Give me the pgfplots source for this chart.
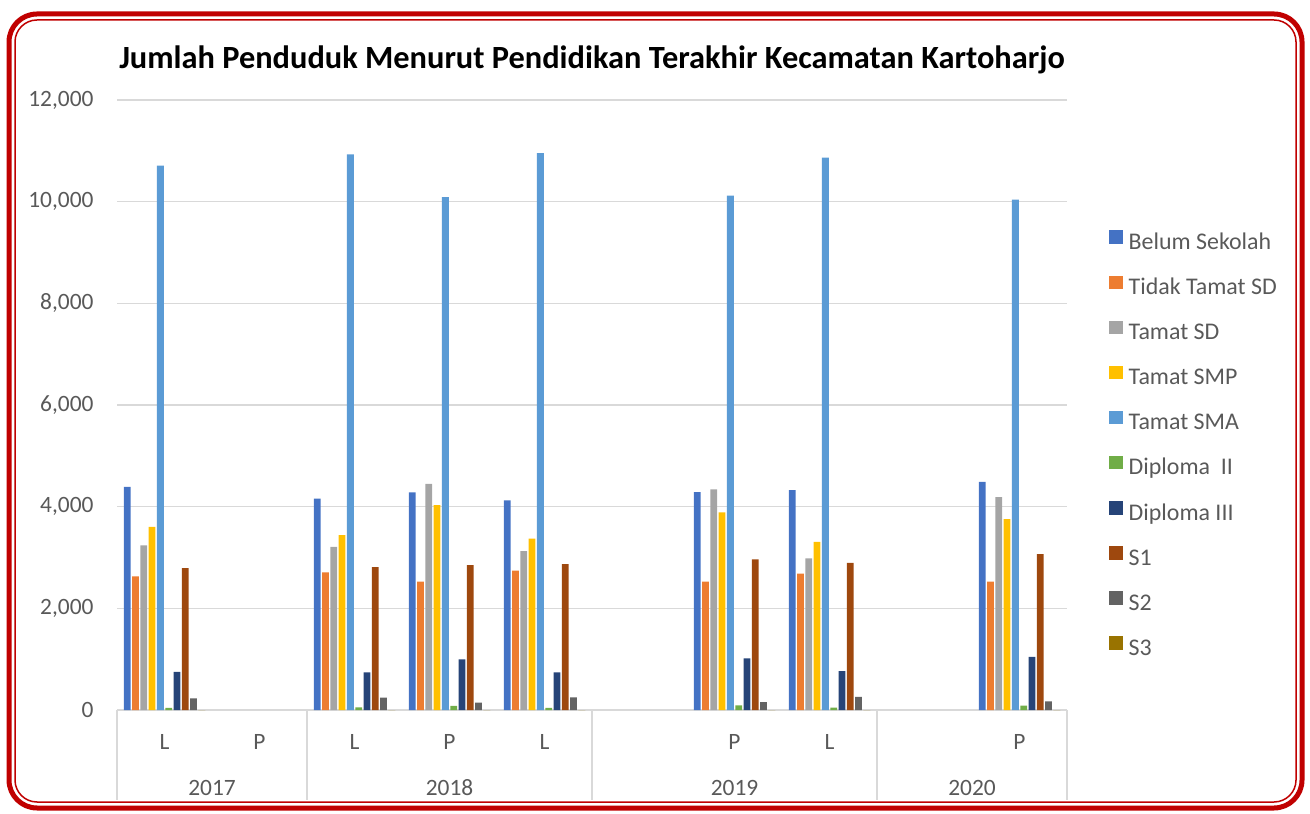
\documentclass[border=0pt]{standalone}
\usepackage{pgfplots}
\pgfplotsset{compat=1.18}
\usepackage{pgfplotstable}
\usepackage{fontspec}
\setmainfont{Carlito}
\definecolor{c1}{HTML}{4472C4}
\definecolor{c2}{HTML}{ED7D31}
\definecolor{c3}{HTML}{A5A5A5}
\definecolor{c4}{HTML}{FFC000}
\definecolor{c5}{HTML}{5B9BD5}
\definecolor{c6}{HTML}{70AD47}
\definecolor{c7}{HTML}{264478}
\definecolor{c8}{HTML}{9E480E}
\definecolor{c9}{HTML}{636363}
\definecolor{c10}{HTML}{997300}
\definecolor{txt}{HTML}{595959}
\definecolor{gridc}{HTML}{D9D9D9}
\definecolor{framec}{HTML}{C00000}

% x: 1=2017 L, 2=2017 P, 3=2018 L, 4=2018 P, 5=2018 L, 6=2019 (blank), 7=2019 P, 8=2019 L, 9=2020 (blank), 10=2020 P
\pgfplotstableread{
x  belum tidak sd   smp  sma   dtwo dthree sone stwo sthree
1  4390  2630  3240 3600 10710 40   750    2790 230  0
3  4160  2705  3210 3440 10930 50   740    2810 245  0
4  4280  2525  4450 4030 10090 80   995    2850 145  0
5  4125  2740  3125 3370 10955 40   740    2870 250  0
7  4285  2525  4340 3890 10120 90   1015   2965 155  0
8  4325  2685  2985 3305 10865 45   765    2895 260  0
10 4490  2525  4190 3755 10040 85   1045   3065 170  0
}\data

\begin{document}
\begin{tikzpicture}[x=1bp,y=1bp]
\useasboundingbox (0,0) rectangle (1310,813);
\draw[framec, line width=5bp, rounded corners=28bp] (9,5) rectangle (1302,799);
\draw[framec, line width=1.5bp, rounded corners=22bp] (15,11) rectangle (1296,793);
\begin{axis}[
  at={(117bp,103bp)}, anchor=south west,
  scale only axis, width=950bp, height=610bp,
  ybar=1.5bp, bar width=6.8bp,
  every axis plot/.append style={draw=none,
    legend image code/.code={\fill[##1] (0bp,0bp) rectangle (13.5bp,13.5bp);}},
  xmin=0.5, xmax=10.5, ymin=0, ymax=12000,
  clip=false,
  xtick={1,...,10},
  xticklabels={L,P,L,P,L,,P,L,,P},
  major tick length=0pt,
  xticklabel style={anchor=base, yshift=-39.5bp},
  extra x ticks={0.5,2.5,5.5,8.5,10.5},
  extra x tick labels={},
  extra x tick style={major tick length=90bp, tick align=outside,
    tick style={draw=gridc, line width=1.3bp}},
  ytick={0,2000,...,12000},
  scaled y ticks=false,
  /pgf/number format/.cd, fixed, 1000 sep={,}, assume math mode=true,
  /pgfplots/.cd,
  yticklabel style={anchor=east, xshift=-20bp},
  tick label style={font=\fontsize{23.5}{27}\selectfont, text=txt},
  ymajorgrids, grid style={draw=gridc, line width=1.5bp},
  axis x line*=bottom, axis y line*=left,
  y axis line style={draw=none},
  x axis line style={draw=gridc, line width=1.5bp, -},
  ytick style={draw=none},
  title={Jumlah Penduduk Menurut Pendidikan Terakhir Kecamatan Kartoharjo},
  title style={font=\fontsize{32.5}{38}\selectfont\bfseries, text=black, anchor=base, at={(0.5,1)}, yshift=26bp},
  legend cell align=left,
  legend style={draw=none, fill=none, anchor=north west, at={(1.0442,0.7865)},
    inner sep=0pt, row sep=19.1bp,
    font=\fontsize{24}{28}\selectfont, text=txt,
    nodes={inner sep=2bp, text height=16bp, text depth=5bp},
    /tikz/every odd column/.style={column sep=4bp}},
]
\addplot[fill=c1] table[x=x,y=belum]{\data};
\addplot[fill=c2] table[x=x,y=tidak]{\data};
\addplot[fill=c3] table[x=x,y=sd]{\data};
\addplot[fill=c4] table[x=x,y=smp]{\data};
\addplot[fill=c5] table[x=x,y=sma]{\data};
\addplot[fill=c6] table[x=x,y=dtwo]{\data};
\addplot[fill=c7] table[x=x,y=dthree]{\data};
\addplot[fill=c8] table[x=x,y=sone]{\data};
\addplot[fill=c9] table[x=x,y=stwo]{\data};
\addplot[fill=c10] table[x=x,y=sthree]{\data};
\legend{Belum Sekolah,Tidak Tamat SD,Tamat SD,Tamat SMP,Tamat SMA,Diploma~~II,Diploma III,S1,S2,S3}
\node[anchor=base, text=txt, font=\fontsize{23.5}{27}\selectfont] at (axis cs:1.5,0) [yshift=-85.5bp] {2017};
\node[anchor=base, text=txt, font=\fontsize{23.5}{27}\selectfont] at (axis cs:4,0) [yshift=-85.5bp] {2018};
\node[anchor=base, text=txt, font=\fontsize{23.5}{27}\selectfont] at (axis cs:7,0) [yshift=-85.5bp] {2019};
\node[anchor=base, text=txt, font=\fontsize{23.5}{27}\selectfont] at (axis cs:9.5,0) [yshift=-85.5bp] {2020};
\end{axis}
\end{tikzpicture}
\end{document}
